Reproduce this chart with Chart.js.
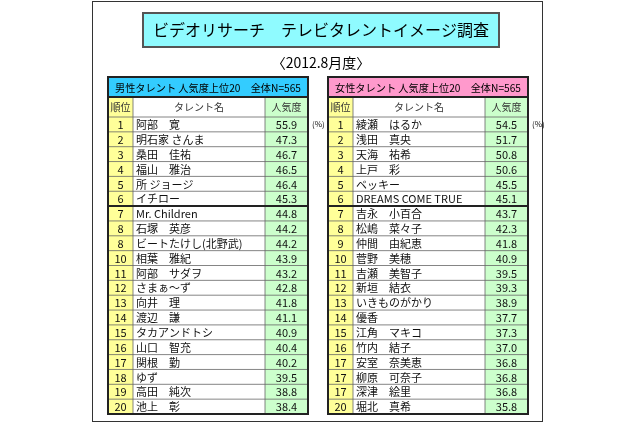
<!DOCTYPE html>
<html><head><meta charset="utf-8">
<script src="https://cdn.jsdelivr.net/npm/chart.js@4"></script>
<style>html,body{margin:0;padding:0;background:#fff}#c{display:block}</style>
</head><body><canvas id="c" width="640" height="426"></canvas>
<script>
const title = "ビデオリサーチ　テレビタレントイメージ調査";
const subtitle = "〈2012.8月度〉";
const maleHeader = "男性タレント 人気度上位20　全体N=565";
const femaleHeader = "女性タレント 人気度上位20　全体N=565";
const colHeaders = ["順位","タレント名","人気度"];
const maleRanks = [1,2,3,4,5,6,7,8,8,10,11,12,13,14,15,16,17,18,19,20];
const maleNames = ["阿部　寛","明石家 さんま","桑田　佳祐","福山　雅治","所 ジョージ","イチロー","Mr. Children","石塚　英彦","ビートたけし(北野武)","相葉　雅紀","阿部　サダヲ","さまぁ～ず","向井　理","渡辺　謙","タカアンドトシ","山口　智充","関根　勤","ゆず","高田　純次","池上　彰"];
const maleValues = [55.9,47.3,46.7,46.5,46.4,45.3,44.8,44.2,44.2,43.9,43.2,42.8,41.8,41.1,40.9,40.4,40.2,39.5,38.8,38.4];
const femaleRanks = [1,2,3,4,5,6,7,8,9,10,11,12,13,14,15,16,17,17,17,20];
const femaleNames = ["綾瀬　はるか","浅田　真央","天海　祐希","上戸　彩","ベッキー","DREAMS COME TRUE","吉永　小百合","松嶋　菜々子","仲間　由紀恵","菅野　美穂","吉瀬　美智子","新垣　結衣","いきものがかり","優香","江角　マキコ","竹内　結子","安室　奈美恵","柳原　可奈子","深津　絵里","堀北　真希"];
const femaleValues = [54.5,51.7,50.8,50.6,45.5,45.1,43.7,42.3,41.8,40.9,39.5,39.3,38.9,37.7,37.3,37.0,36.8,36.8,36.8,35.8];

const FONT = '"Noto Sans CJK JP","Noto Sans",sans-serif';
const tablePlugin = {
  id:'table',
  afterDraw(chart){
    const ctx = chart.ctx, sx = chart.scales.x, sy = chart.scales.y;
    const X = v=>sx.getPixelForValue(v), Y = v=>sy.getPixelForValue(v);
    ctx.save();
    ctx.strokeStyle='#333'; ctx.lineWidth=1;
    ctx.strokeRect(X(92)+.5,Y(1)+.5,X(542)-X(92),Y(421)-Y(1));
    ctx.fillStyle='#8ffbff'; ctx.fillRect(X(143),Y(13),X(499)-X(143),Y(47)-Y(13));
    ctx.strokeStyle='#555'; ctx.lineWidth=2; ctx.strokeRect(X(143),Y(13),X(499)-X(143),Y(47)-Y(13));
    ctx.fillStyle='#000'; ctx.textAlign='center'; ctx.textBaseline='middle';
    ctx.font='16px '+FONT; ctx.fillText(title,X(321),Y(30));
    ctx.font='14px '+FONT; ctx.fillText(subtitle,X(321),Y(63));
    function drawTable(x0,head,headColor,ranks,names,vals){
      const w=200, c1=x0+25, c2=x0+157, top=77, hh=20, rh=(414-117)/20;
      ctx.fillStyle=headColor; ctx.fillRect(X(x0),Y(top),X(x0+w)-X(x0),Y(top+hh)-Y(top));
      ctx.fillStyle='#000'; ctx.font='10.5px '+FONT; ctx.textAlign='center';
      ctx.fillText(head,X(x0+w/2),Y(top+hh/2+1),186);
      const r0=top+hh;
      ctx.fillStyle='#ffff99'; ctx.fillRect(X(x0),Y(r0),X(c1)-X(x0),Y(414)-Y(r0));
      ctx.fillStyle='#ccffcc'; ctx.fillRect(X(c2),Y(r0),X(x0+w)-X(c2),Y(414)-Y(r0));
      ctx.fillStyle='#333'; ctx.font='10px '+FONT;
      ctx.fillText(colHeaders[0],X((x0+c1)/2),Y(r0+10));
      ctx.fillText(colHeaders[1],X((c1+c2)/2),Y(r0+10));
      ctx.fillText(colHeaders[2],X((c2+x0+w)/2),Y(r0+10));
      ctx.strokeStyle='#666'; ctx.lineWidth=0.8;
      const b=r0+20;
      for(let i=0;i<=ranks.length;i++){
        const y=b+i*rh; ctx.beginPath(); ctx.moveTo(X(x0),Y(y)); ctx.lineTo(X(x0+w),Y(y)); ctx.stroke();
      }
      [c1,c2].forEach(c=>{ctx.beginPath();ctx.moveTo(X(c),Y(r0));ctx.lineTo(X(c),Y(414));ctx.stroke();});
      ctx.lineWidth=2; ctx.strokeStyle='#222';
      ctx.beginPath(); ctx.moveTo(X(x0),Y(b+6*rh)); ctx.lineTo(X(x0+w),Y(b+6*rh)); ctx.stroke();
      ctx.strokeRect(X(x0),Y(top),X(x0+w)-X(x0),Y(414)-Y(top));
      ctx.beginPath(); ctx.moveTo(X(x0),Y(r0)); ctx.lineTo(X(x0+w),Y(r0)); ctx.stroke();
      ctx.font='11px '+FONT; ctx.fillStyle='#111';
      ranks.forEach((r,i)=>{
        const y=Y(b+(i+0.5)*rh+0.5);
        ctx.textAlign='center'; ctx.fillText(String(r),X((x0+c1)/2),y);
        ctx.textAlign='left'; ctx.fillText(names[i],X(c1+3),y,125);
        ctx.textAlign='center'; ctx.fillText(vals[i].toFixed(1),X((c2+x0+w)/2),y);
      });
      ctx.font='8px '+FONT; ctx.textAlign='left'; ctx.fillText('(%)',X(x0+w+4),Y(b+rh/2));
    }
    drawTable(108,maleHeader,'#33ccff',maleRanks,maleNames,maleValues);
    drawTable(328,femaleHeader,'#ff99cc',femaleRanks,femaleNames,femaleValues);
    ctx.restore();
  }
};
new Chart(document.getElementById('c'),{
  type:'scatter',
  data:{datasets:[{data:[],pointRadius:0}]},
  options:{responsive:false,animation:false,events:[],
    layout:{padding:0},
    plugins:{legend:{display:false},tooltip:{enabled:false}},
    scales:{x:{type:'linear',min:0,max:640,display:false},y:{type:'linear',min:0,max:426,reverse:true,display:false}}},
  plugins:[tablePlugin]
});
</script></body></html>
